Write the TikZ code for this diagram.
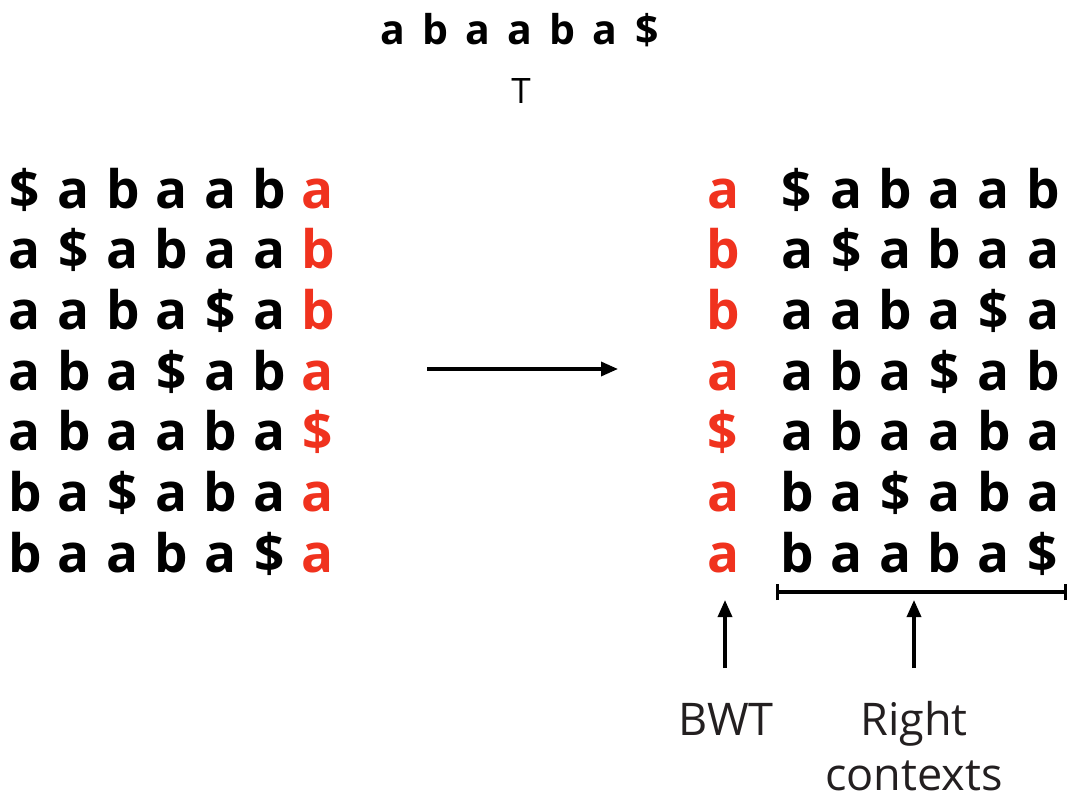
\documentclass[tikz,border=0pt]{standalone}
\usepackage{fontspec}
\setmainfont{Open Sans}
\usetikzlibrary{arrows.meta}
\definecolor{bwtred}{RGB}{240,50,30}
\definecolor{labgray}{RGB}{35,31,32}
\tikzset{
  ch/.style={anchor=base, inner sep=0pt, font=\fontsize{53}{60}\selectfont\bfseries},
  topch/.style={anchor=base, inner sep=0pt, font=\fontsize{41}{48}\selectfont\bfseries},
  lab/.style={anchor=base, inner sep=0pt, text=labgray, font=\fontsize{45}{55}\selectfont},
  conn/.style={line width=3.4pt, -{Triangle[length=17pt,width=14pt]}},
}
\begin{document}
\begin{tikzpicture}[x=1pt,y=-1pt]
\useasboundingbox (0,0) rectangle (1074,800);
% text T
\foreach \c [count=\i] in {a,b,a,a,b,a,\$} {
  \node[topch] (t-\i) at ({393+42.3*(\i-1)},45) {\c};
}
\node[anchor=base, inner sep=0pt, font=\fontsize{35}{42}\selectfont] (tlab) at (521,103) {T};
% left matrix (rotations)
\foreach \r/\row/\last in {1/{\$,a,b,a,a,b}/a, 2/{a,\$,a,b,a,a}/b, 3/{a,a,b,a,\$,a}/b, 4/{a,b,a,\$,a,b}/a, 5/{a,b,a,a,b,a}/\$, 6/{b,a,\$,a,b,a}/a, 7/{b,a,a,b,a,\$}/a} {
  \foreach \c [count=\j] in \row {
    \node[ch] (l-\r-\j) at ({25+48.9*(\j-1)},{208+60.7*(\r-1)}) {\c};
  }
  \node[ch, text=bwtred] (l-\r-7) at (318,{208+60.7*(\r-1)}) {\last};
}
% right matrix (sorted)
\foreach \r/\last/\row in {1/a/{\$,a,b,a,a,b}, 2/b/{a,\$,a,b,a,a}, 3/b/{a,a,b,a,\$,a}, 4/a/{a,b,a,\$,a,b}, 5/\$/{a,b,a,a,b,a}, 6/a/{b,a,\$,a,b,a}, 7/a/{b,a,a,b,a,\$}} {
  \node[ch, text=bwtred] (r-\r-0) at (723,{208+60.7*(\r-1)}) {\last};
  \foreach \c [count=\j] in \row {
    \node[ch] (r-\r-\j) at ({797+49.2*(\j-1)},{208+60.7*(\r-1)}) {\c};
  }
}
% main arrow
\coordinate (arrS) at (427,369);
\coordinate (arrE) at (618,369);
\draw[conn] (arrS) -- (arrE);
% bracket
\coordinate (brL) at (777,592);
\coordinate (brR) at (1065,592);
\draw[line width=3.4pt] (brL) -- (brR);
\draw[line width=3pt] ([yshift=-8pt]brL) -- ([yshift=8pt]brL);
\draw[line width=3pt] ([yshift=-8pt]brR) -- ([yshift=8pt]brR);
% labels
\node[lab] (bwt) at (726,735) {BWT};
\node[lab] (right) at (914,735) {Right};
\node[lab] (ctx) at (914,790) {contexts};
\coordinate (bwtS) at (725,668);
\coordinate (bwtE) at (725,600);
\coordinate (rcS) at (914,668);
\coordinate (rcE) at (914,600);
\draw[conn] (bwtS) -- (bwtE);
\draw[conn] (rcS) -- (rcE);
\end{tikzpicture}
\end{document}
